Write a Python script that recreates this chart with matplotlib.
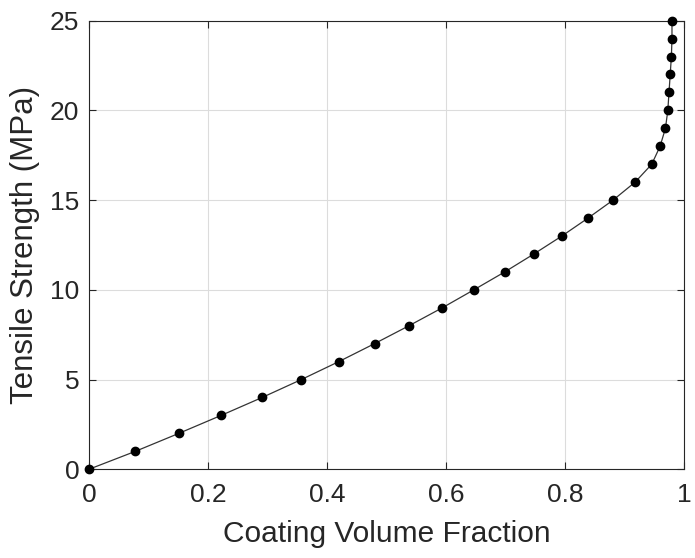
import matplotlib
matplotlib.use("Agg")
import matplotlib.pyplot as plt

# Coating volume fraction vs. tensile strength
strength = list(range(0, 26))
fraction = [0.000, 0.078, 0.151, 0.222, 0.291, 0.357, 0.420, 0.480, 0.538,
            0.594, 0.647, 0.699, 0.748, 0.795, 0.839, 0.881, 0.918, 0.946,
            0.960, 0.969, 0.973, 0.975, 0.977, 0.979, 0.980, 0.980]
xticks = [0, 0.2, 0.4, 0.6, 0.8, 1]
xticklabels = ["0", "0.2", "0.4", "0.6", "0.8", "1"]
yticks = [0, 5, 10, 15, 20, 25]

plt.rcParams["font.family"] = ["Liberation Sans", "DejaVu Sans"]
text_color = "#262626"

fig = plt.figure(figsize=(6.95, 5.58), dpi=100)
ax = fig.add_axes([0.128, 0.159, 0.856, 0.804])

ax.plot(fraction, strength, color="#333333", linewidth=0.9,
        marker="o", markersize=6, markerfacecolor="black",
        markeredgecolor="black", clip_on=False, zorder=3)

ax.set_xlim(0, 1)
ax.set_ylim(0, 25)
ax.set_xticks(xticks)
ax.set_xticklabels(xticklabels)
ax.set_yticks(yticks)
ax.grid(True, color="#dcdcdc", linewidth=0.8)
ax.set_axisbelow(True)

for side in ax.spines.values():
    side.set_color(text_color)
    side.set_linewidth(0.8)

ax.tick_params(direction="in", length=5, width=0.8, colors=text_color,
               labelsize=19, top=True, right=True)
ax.tick_params(axis="x", labeltop=False, pad=10)
ax.tick_params(axis="y", labelright=False, pad=7)

ax.set_xlabel("Coating Volume Fraction", fontsize=21.5, color=text_color, labelpad=9)
ax.set_ylabel("Tensile Strength (MPa)", fontsize=22.5, color=text_color, labelpad=7)

fig.savefig("out.png", dpi=100)
